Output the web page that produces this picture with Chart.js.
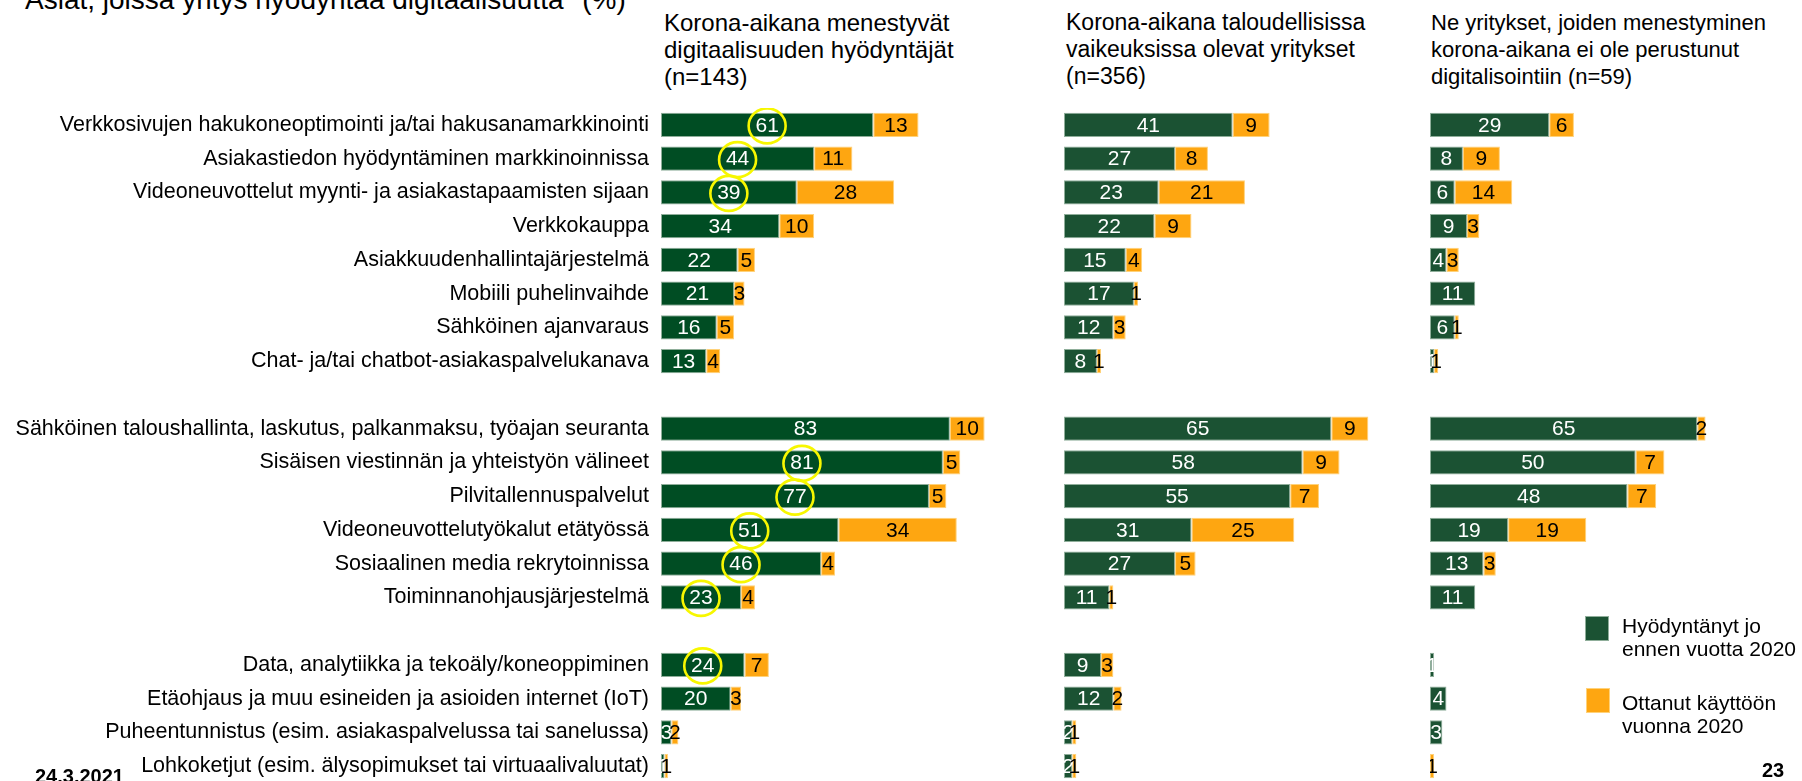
<!DOCTYPE html>
<html lang="fi">
<head>
<meta charset="utf-8">
<title>Asiat, joissa yritys hyödyntää digitaalisuutta</title>
<script src="https://cdn.jsdelivr.net/npm/chart.js@4.4.1/dist/chart.umd.min.js"></script>
<style>
  html, body { margin: 0; padding: 0; background: #fff; }
  body {
    width: 1802px; height: 781px; overflow: hidden; position: relative;
    font-family: "Liberation Sans", Arial, sans-serif; color: #000;
  }
  .abs { position: absolute; white-space: nowrap; }
  canvas { position: absolute; }
  .title { left: 25px; top: -16px; font-size: 28px; line-height: 32px; }
  .head { top: 9px; font-size: 23px; line-height: 27px; }
  .legend-box { width: 24px; height: 25px; box-sizing: border-box; }
  .legend-text { font-size: 21px; line-height: 23px; }
  .foot { font-weight: bold; font-size: 20px; line-height: 20px; }
</style>
</head>
<body>
  <div class="abs title">Asiat, joissa yritys hyödyntää digitaalisuutta* (%)</div>

  <div class="abs head" style="left:664px;font-size:24px">Korona-aikana menestyvät<br>digitaalisuuden hyödyntäjät<br>(n=143)</div>
  <div class="abs head" style="left:1066px">Korona-aikana taloudellisissa<br>vaikeuksissa olevat yritykset<br>(n=356)</div>
  <div class="abs head" style="left:1431px;font-size:22px">Ne yritykset, joiden menestyminen<br>korona-aikana ei ole perustunut<br>digitalisointiin (n=59)</div>

  <canvas id="chart-success" width="1009" height="675" style="left:0;top:108px"></canvas>
  <canvas id="chart-trouble" width="329" height="675" style="left:1064px;top:108px"></canvas>
  <canvas id="chart-other" width="329" height="675" style="left:1430px;top:108px"></canvas>

  <div class="abs legend-box" style="left:1585px;top:616px;background:#1b5233;border:1px solid #8fae9a"></div>
  <div class="abs legend-text" style="left:1622px;top:614px">Hyödyntänyt jo<br>ennen vuotta 2020</div>
  <div class="abs legend-box" style="left:1586px;top:688px;background:#fea611;border:1px solid #ffd27a"></div>
  <div class="abs legend-text" style="left:1622px;top:691px">Ottanut käyttöön<br>vuonna 2020</div>

  <div class="abs foot" style="left:35px;top:766px">24.3.2021</div>
  <div class="abs foot" style="left:1762px;top:760px">23</div>

<script>
// rivit, tyhjät merkkijonot ovat ryhmien välisiä välejä
const categories = [
  'Verkkosivujen hakukoneoptimointi ja/tai hakusanamarkkinointi',
  'Asiakastiedon hyödyntäminen markkinoinnissa',
  'Videoneuvottelut myynti- ja asiakastapaamisten sijaan',
  'Verkkokauppa',
  'Asiakkuudenhallintajärjestelmä',
  'Mobiili puhelinvaihde',
  'Sähköinen ajanvaraus',
  'Chat- ja/tai chatbot-asiakaspalvelukanava',
  '',
  'Sähköinen taloushallinta, laskutus, palkanmaksu, työajan seuranta',
  'Sisäisen viestinnän ja yhteistyön välineet',
  'Pilvitallennuspalvelut',
  'Videoneuvottelutyökalut etätyössä',
  'Sosiaalinen media rekrytoinnissa',
  'Toiminnanohjausjärjestelmä',
  '',
  'Data, analytiikka ja tekoäly/koneoppiminen',
  'Etäohjaus ja muu esineiden ja asioiden internet (IoT)',
  'Puheentunnistus (esim. asiakaspalvelussa tai sanelussa)',
  'Lohkoketjut (esim. älysopimukset tai virtuaalivaluutat)'
];

// Korona-aikana menestyvät digitaalisuuden hyödyntäjät (n=143)
const successBefore = [61, 44, 39, 34, 22, 21, 16, 13, null, 83, 81, 77, 51, 46, 23, null, 24, 20, 3, 1];
const successNew    = [13, 11, 28, 10, 5, 3, 5, 4, null, 10, 5, 5, 34, 4, 4, null, 7, 3, 2, 1];

// Korona-aikana taloudellisissa vaikeuksissa olevat yritykset (n=356)
const troubleBefore = [41, 27, 23, 22, 15, 17, 12, 8, null, 65, 58, 55, 31, 27, 11, null, 9, 12, 2, 2];
const troubleNew    = [9, 8, 21, 9, 4, 1, 3, 1, null, 9, 9, 7, 25, 5, 1, null, 3, 2, 1, 1];

// Ne yritykset, joiden menestyminen ei ole perustunut digitalisointiin (n=59)
const otherBefore = [29, 8, 6, 9, 4, 11, 6, 1, null, 65, 50, 48, 19, 13, 11, null, 1, 4, 3, 0];
const otherNew    = [6, 9, 14, 3, 3, 0, 1, 1, null, 2, 7, 7, 19, 3, 0, null, 0, 0, 0, 1];

// ympyröidyt rivit ensimmäisessä paneelissa
const circledRows = [0, 1, 2, 10, 11, 12, 13, 14, 16];

const FONT = '"Liberation Sans", Arial, sans-serif';
const ORANGE = '#fea611';

const valueLabels = {
  id: 'valueLabels',
  afterDatasetsDraw(chart) {
    const ctx = chart.ctx;
    ctx.save();
    ctx.font = '21px ' + FONT;
    ctx.textAlign = 'center';
    ctx.textBaseline = 'middle';
    chart.data.datasets.forEach((ds, di) => {
      const meta = chart.getDatasetMeta(di);
      meta.data.forEach((bar, i) => {
        const v = ds.data[i];
        if (!v) return;
        ctx.fillStyle = ds.labelColor;
        ctx.fillText(String(v), (bar.x + bar.base) / 2, bar.y + 1);
      });
    });
    ctx.restore();
  }
};

const yellowCircles = {
  id: 'yellowCircles',
  afterDraw(chart) {
    const ctx = chart.ctx;
    const meta = chart.getDatasetMeta(0);
    ctx.save();
    ctx.strokeStyle = '#f7f700';
    ctx.lineWidth = 2.6;
    circledRows.forEach((i) => {
      const bar = meta.data[i];
      ctx.beginPath();
      ctx.ellipse((bar.x + bar.base) / 2, bar.y + 1, 18.5, 17.5, 0, 0, Math.PI * 2);
      ctx.stroke();
    });
    ctx.restore();
  }
};

function makeChart(id, before, after, green, max, withLabels, extra) {
  return new Chart(document.getElementById(id), {
    type: 'bar',
    data: {
      labels: categories,
      datasets: [
        {
          label: 'Hyödyntänyt jo ennen vuotta 2020',
          data: before,
          backgroundColor: green,
          borderColor: '#8fae9a',
          borderWidth: 1,
          borderSkipped: false,
          barPercentage: 0.72,
          categoryPercentage: 1,
          labelColor: '#ffffff'
        },
        {
          label: 'Ottanut käyttöön vuonna 2020',
          data: after,
          backgroundColor: ORANGE,
          borderColor: '#ffd27a',
          borderWidth: 1,
          borderSkipped: false,
          barPercentage: 0.72,
          categoryPercentage: 1,
          labelColor: '#000000'
        }
      ]
    },
    options: {
      indexAxis: 'y',
      responsive: false,
      animation: false,
      devicePixelRatio: 1,
      layout: { padding: 0 },
      plugins: {
        legend: { display: false },
        tooltip: { enabled: false }
      },
      scales: {
        x: { stacked: true, min: 0, max: max, display: false },
        y: {
          stacked: true,
          display: withLabels,
          grid: { display: false, drawTicks: false },
          border: { display: false },
          ticks: {
            autoSkip: false,
            padding: 12,
            color: '#000',
            font: { family: FONT, size: 21.5 }
          },
          afterFit(scale) {
            if (!withLabels) return;
            scale.width = 661;
            scale.paddingTop = 0;
            scale.paddingBottom = 0;
          }
        }
      }
    },
    plugins: [valueLabels].concat(extra)
  });
}

makeChart('chart-success', successBefore, successNew, '#004d23', 100, true, [yellowCircles]);
makeChart('chart-trouble', troubleBefore, troubleNew, '#1b5233', 80, false, []);
makeChart('chart-other', otherBefore, otherNew, '#1b5233', 80, false, []);
</script>
</body>
</html>
